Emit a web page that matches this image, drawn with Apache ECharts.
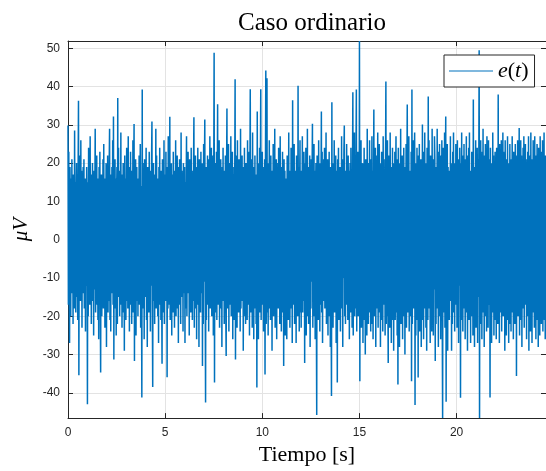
<!DOCTYPE html>
<html><head><meta charset="utf-8">
<script src="https://cdn.jsdelivr.net/npm/echarts@6/dist/echarts.min.js"></script>
<style>html,body{margin:0;padding:0;background:#fff}#c{width:546px;height:471px}</style>
</head><body><div id="c"></div>
<script>
// sample spacing of the recording (s)
const sampleStep = 0.02;
// e(t) in microvolts, split by 5-second spans
const e_0to5 = [
29.8, -17, 23, -11, -27, 19, 9, -20, 16, -14, 21, -10, 13, -22, 17, -8, -18, 28.5, -13, 15,
-19, 12, 20, -15, 10, -21, 17, 36.3, -35.4, 14, -11, 22, -16, 26, -12, 18, -23, 11, -9, 19,
-14, 21, -18, 11, 16, -24, 13, -12, 19, 8, -43, 15, -20, 24, -13, 12, -17, 27, -10, 14,
-22, 17, -9, 20, -16, 12, -25, 18, -13, 10, 29, -19, 14, -12, 22, -17, 9, -21, 16, -26,
19, -12, 23, -15, -34.7, 13, 17, -20, 11, -10, 21, -18, 25, -14, 11, -23, 16, -8, 20, -28,
15, -11, 22, -19, 9, -16, 20, 29, -21, 13, -24, 17, -11, 19, -14, 26, -17, 32.2, -31.3, 12,
-18, 21, -13, 16, -25, 12, 19, -22, 37, -15, 24, -10, 14, -20, 18, -12, 28, -17, 10, -23,
17, -14, 20, -19, 13, -29, 22, -11, 16, -21, 9, 24, -16, 12, -18, 27, -13, 19, -24, 11,
-17, 23, -12, 18, -22, 14, -9, 26, -19, 15, 30.2, -31.7, 17, -14, 21, -25, 11, 19, -16, 13,
-20, 16, -11, 22, -17, 10, 25, -23, 14, -10, -41.2, 39.2, -18, 20, -13, 17, -26, 21, -11, 18,
-15, 24, -21, 12, -28, 19, -11, 16, -19, 23, -9, 14, -24, 18, -12, 21, 30.9, -17, -38.5, 15,
20, -16, 13, -22, 17, -10, 29, -18, 22, -14, 11, -20, 16, -27, 19, -11, 24, -17, 14, -21,
18, -13, -32.4, 21, -19, 15, -11, 26, -22, 12];
const e_5to10 = [
17, -16, 23, -11, 19, -35.9, 16, -18, 27, -14,
21, -17, 32.1, -21, 14, -12, 20, -25, 17, 10, -19, 23, -15, 12, -23, 18, -9, 26, -20, 15,
-18, 22, -13, 16, -27, 19, -11, 21, -17, 14, -22, 28, -15, 18, -10, 13, -24, 20, -14, 17,
19, -27, 15, -18, 12, 27, -20, 17, -14, 23, -11, 16, -25, 21, -16, 11, -19, 24, -12, 18,
-21, 14, -16, 20, 32, -23, 12, -11, 22, -18, 16, -26, 19, -13, 24, -17, 11, -28, 21, -10,
17, -19, 23, -14, 13, 20, -33, 16, -22, 25, -11, 18, 31.4, -15, -42.5, 19, -21, 14, -17, 22,
-13, 21, -24, 15, -11, 27, -18, 19, -9, 24, -20, 13, -16, 22, -25, 17, 48.8, -37.3, 14, -19,
20, -15, 23, -21, 12, 35.4, -17, 18, -12, 26, -23, 14, -10, 21, -18, 16, -28, 19, -14, 24,
-16, 18, -22, 13, -11, 22, -19, -30.4, 17, 34.3, -18, 21, -13, 25, -24, 15, -11, 20, -17, 27,
-20, 14, -15, 23, -26, 19, -12, 17, -21, 16, 41.9, -31.3, 22, -17, 11, -23, 26, -14, 18, -19,
21, -11, 16, -24, 29, -18, 13, -16, 22, -10, 19, -29, 15, -20, 24, -13, 17, -22, 20, -15,
12, -21, 26, -17, 18, -14, 23, -25, 16, 39.3, -19, 21, -12, 17, -23, 28, -16, 14, -26, 19,
-18, 22, -13, 17, -22, 15, -38.6, 33.5, -16, 20, -26, 13, -11, 24, -19, 18, 39.3, -21, 16, -14];
const e_10to15 = [
23, -17, 19, -24, 14, -10, 21, -35.2, 17, 44.2, -22, -13, 42.2, -19, 16, -25, 20, -12, 26, -18,
15, -21, 22, -14, 18, -29, 13, -17, 25, -20, 19, -10, 29, -23, 14, -16, 21, -26, 17, -11,
20, -18, 24, -13, 16, -22, 27, -15, 12, -24, 19, -10, 23, -19, 17, -33, 21, -14, 18, -25,
16, -20, 14, -26, 22, -12, 19, -21, 28, -16, 18, -23, 13, -11, 24, -18, 20, -27, 36.4, -15,
21, -17, 25, -22, 13, -14, 18, -27, 22, -11, 16, -20, 40.2, -18, 19, -24, 14, 26, -19, 17,
-23, 18, -12, 27, -19, 15, -16, 23, 11, -32.2, 20, -14, 24, -25, 17, -10, 29, -20, 16, -22,
19, -15, 22, -28, 14, -18, 21, -11, 17, 30.3, -23, 16, -20, 25, -13, 18, -26, 12, 20, -17,
-45.8, 22, -14, 18, -21, 26, -12, 16, -24, 20, -17, 13, 33.5, -19, 23, -27, 15, -11, 21, -16,
24, -18, 17, -13, 28, -22, 14, -16, 21, -25, 18, -10, 23, -20, 15, -28, 19, -14, -40.8, 35.9,
-17, 20, -23, 16, -11, 26, -19, 13, -15, 22, -27, 18, 11, -37.3, 21, -16, 24, -21, 17, -12,
19, -24, 15, -18, 27, -14, 21, -28, 17, -10, 23, 29.8, -20, 16, -22, 18, -13, 25, -17, 14,
-21, 22, -16, 18, -26, 13, 20, -19, 24, -12, 16, -23, 17, 38.5, -25, 19, -15, 28, -20, 15,
-18, 21, 39.2, -24, 17, -14, 23, -20, 15, -11];
const e_15to20 = [
51.9, -37, 22, -17, 26, -23, 18, -13, 20, -27,
19, -16, 24, -21, 14, -30, 21, -13, 17, -25, 29, -18, 15, -22, 20, -11, 26, -19, 16, -24,
21, -15, 27, -22, 18, -26, 13, 34, -20, 17, -14, 24, -28, 19, -12, 22, -18, 28, -23, 16,
-19, 25, -16, 20, -28, 14, -21, 23, -13, 18, -24, 27, -17, 21, -11, 17, -25, 19, 41.3, -22,
15, -20, 26, -14, -32.2, 22, -18, 17, -23, 28, -12, 19, -27, 16, -21, 24, -15, 20, -29, 18,
-17, 23, -21, 14, 27, -19, 18, -25, 21, -37.8, 24, -13, 17, -28, 20, -16, 29, -22, 15, -18,
22, -26, 16, -14, 24, -20, 19, -30, 17, -11, 25, -23, 18, 35.3, -19, 21, -15, 27, -24, 14,
-20, 18, -16, 23, -37, 39.2, -22, 17, -13, 26, -18, 21, 28, -43.2, 20, -25, 16, -14, 24, -21,
19, -36, 22, -17, 25, -24, 14, -19, 21, -28, 16, -12, 30.1, -21, 18, -26, 23, -15, 28, -18,
17, -23, 20, -29, 24, -16, -21, 37.4, -18, 26, -14, 19, -27, 22, -19, 16, -24, 29, -17, 21,
-25, 18, -13, 27, 21, -31.7, 19, -22, 16, -18, 29, -15, 23, -28, 17, -20, 25, -14, 20, -26,
22, -17, 26, -21, -46.6, 24, -19, 18, -14, 28, -23, 15, 32.2, -42.3, 21, -16, 25, -29, 19, -18,
18, -21, 13, -16, 27, -12, 20, -29, 15, -22, 23, -10, 28, -19, 14, -24, 20, -15, 25, -17];
const e_20to25 = [
19, -23, 26, -14, 17, -27, 21, -12, 24, 15, -41.3, 20, -16, 28, -21, 14, -24, 22, -18, 25,
-15, 21, -26, 16, -19, 27, -13, 22, -29, 17, -16, 24, -21, 28, -12, 18, -27, 15, -20, 23,
-17, 21, -25, 36.6, -20, 15, -28, 19, -14, 26, -23, 16, -11, 24, -27, 21, -15, 18, 49.5, -46.6,
20, -16, 26, -22, 14, -26, 23, -13, 29, -19, 17, -28, 22, -14, 25, -20, 15, -24, 27, -12,
19, -23, 26, -17, 21, 13, -41.2, 24, -15, 20, -27, 16, -19, 28, -11, 22, -25, 14, -18, 23,
-21, 17, -26, 24, -14, 20, -22, 37.9, -17, 15, -27, 25, -12, 21, -19, 26, -24, 16, -15, 28,
-20, 23, -13, 19, -29, 26, -18, 21, -25, 14, -21, 27, -15, 20, -27, 17, -11, 25, -22, 18,
-24, 21, -14, 27, -19, 16, -26, 23, -12, 20, -22, 25, -17, 15, -35.6, 22, -13, 26, -20, 19,
-15, 29.2, -25, 18, -21, 26, -12, 22, -28, 16, -18, 24, -14, 27, -23, 20, -17, 25, -11, 21,
-26, 19, -15, 23, -20, 27, -29, 18, -13, 22, -24, 28, -16, 21, -27, 15, -19, 26, -12, 20,
-23, 27, -18, 16, -26, 22, -14, 25, -21, 19, -28, 24, -15, 20, -25, 27, -12, 18, -22, 23,
-19, 26, -24, 15, -17, 28, -21, 20, -26, 22, -14];

const xTickStep = 5;
const xRange = [0, 24.6];
const yRange = [-46.6, 51.9];

const values = [].concat(e_0to5, e_5to10, e_10to15, e_15to20, e_20to25);
const data = values.map((v, i) => [+(i * sampleStep).toFixed(3), v]);

const axisColor = '#262626';
const gridColor = '#e3e3e3';
const tickFont = { color: axisColor, fontFamily: 'Liberation Sans, Arial, sans-serif', fontSize: 12 };
const serif = 'Liberation Serif, Times New Roman, serif';

const chart = echarts.init(document.getElementById('c'), null, { renderer: 'canvas' });
chart.setOption({
  animation: false,
  backgroundColor: '#fff',
  title: {
    text: 'Caso ordinario', left: 307, top: 6, textAlign: 'center',
    textStyle: { fontFamily: serif, fontSize: 25, fontWeight: 'normal', color: '#000' }
  },
  grid: { left: 68, right: -1, top: 41, bottom: 50, containLabel: false },
  legend: {
    left: 444, top: 55, orient: 'vertical', padding: [5, 6, 5, 5],
    itemWidth: 44, itemHeight: 1, icon: 'rect', backgroundColor: '#fff',
    borderColor: axisColor, borderWidth: 1, borderRadius: 0,
    data: [{ name: 'e(t)' }],
    formatter: () => '{i|e}{n|(}{i|t}{n|)}',
    textStyle: {
      fontFamily: serif, fontSize: 22, color: '#000',
      rich: {
        i: { fontFamily: serif, fontSize: 22, fontStyle: 'italic', color: '#000' },
        n: { fontFamily: serif, fontSize: 22, color: '#000' }
      }
    }
  },
  xAxis: [{
    type: 'value', position: 'bottom', min: xRange[0], max: xRange[1], interval: xTickStep,
    axisLine: { show: true, onZero: false, lineStyle: { color: axisColor, width: 1 } },
    axisTick: { show: true, inside: true, length: 5, lineStyle: { color: axisColor } },
    axisLabel: Object.assign({ margin: 9, showMaxLabel: false }, tickFont),
    splitLine: { show: true, lineStyle: { color: gridColor, width: 1 } },
    name: 'Tiempo [s]', nameLocation: 'middle', nameGap: 19,
    nameTextStyle: { fontFamily: serif, fontSize: 22, color: '#000' }
  }, {
    type: 'value', position: 'top', min: xRange[0], max: xRange[1], interval: xTickStep,
    axisLine: { show: true, onZero: false, lineStyle: { color: axisColor, width: 1 } },
    axisTick: { show: true, inside: true, length: 5, lineStyle: { color: axisColor } },
    axisLabel: { show: false }, splitLine: { show: false }
  }],
  yAxis: [{
    type: 'value', position: 'left', min: yRange[0], max: yRange[1], splitNumber: 10,
    axisLine: { show: true, onZero: false, lineStyle: { color: axisColor, width: 1 } },
    axisTick: { show: true, inside: true, length: 5, lineStyle: { color: axisColor } },
    axisLabel: Object.assign({
      margin: 8, showMinLabel: false, showMaxLabel: false,
      formatter: v => (Math.abs(v - Math.round(v / 10) * 10) < 1e-6 ? String(Math.round(v)) : '')
    }, tickFont),
    splitLine: { show: true, lineStyle: { color: gridColor, width: 1 } },
    name: 'μV', nameLocation: 'middle', nameGap: 33, nameRotate: 90,
    nameTextStyle: { fontFamily: serif, fontSize: 21, fontStyle: 'italic', color: '#000' }
  }, {
    type: 'value', position: 'right', min: yRange[0], max: yRange[1], splitNumber: 10,
    axisLine: { show: true, onZero: false, lineStyle: { color: axisColor, width: 1 } },
    axisTick: { show: true, inside: true, length: 5, lineStyle: { color: axisColor } },
    axisLabel: { show: false }, splitLine: { show: false }
  }],
  series: [{
    name: 'e(t)', type: 'line', xAxisIndex: 0, yAxisIndex: 0, data: data,
    symbol: 'none', showSymbol: false, clip: true,
    lineStyle: { color: '#0072BD', width: 1.5 }, itemStyle: { color: '#0072BD' },
    emphasis: { disabled: true }
  }]
});
</script></body></html>
